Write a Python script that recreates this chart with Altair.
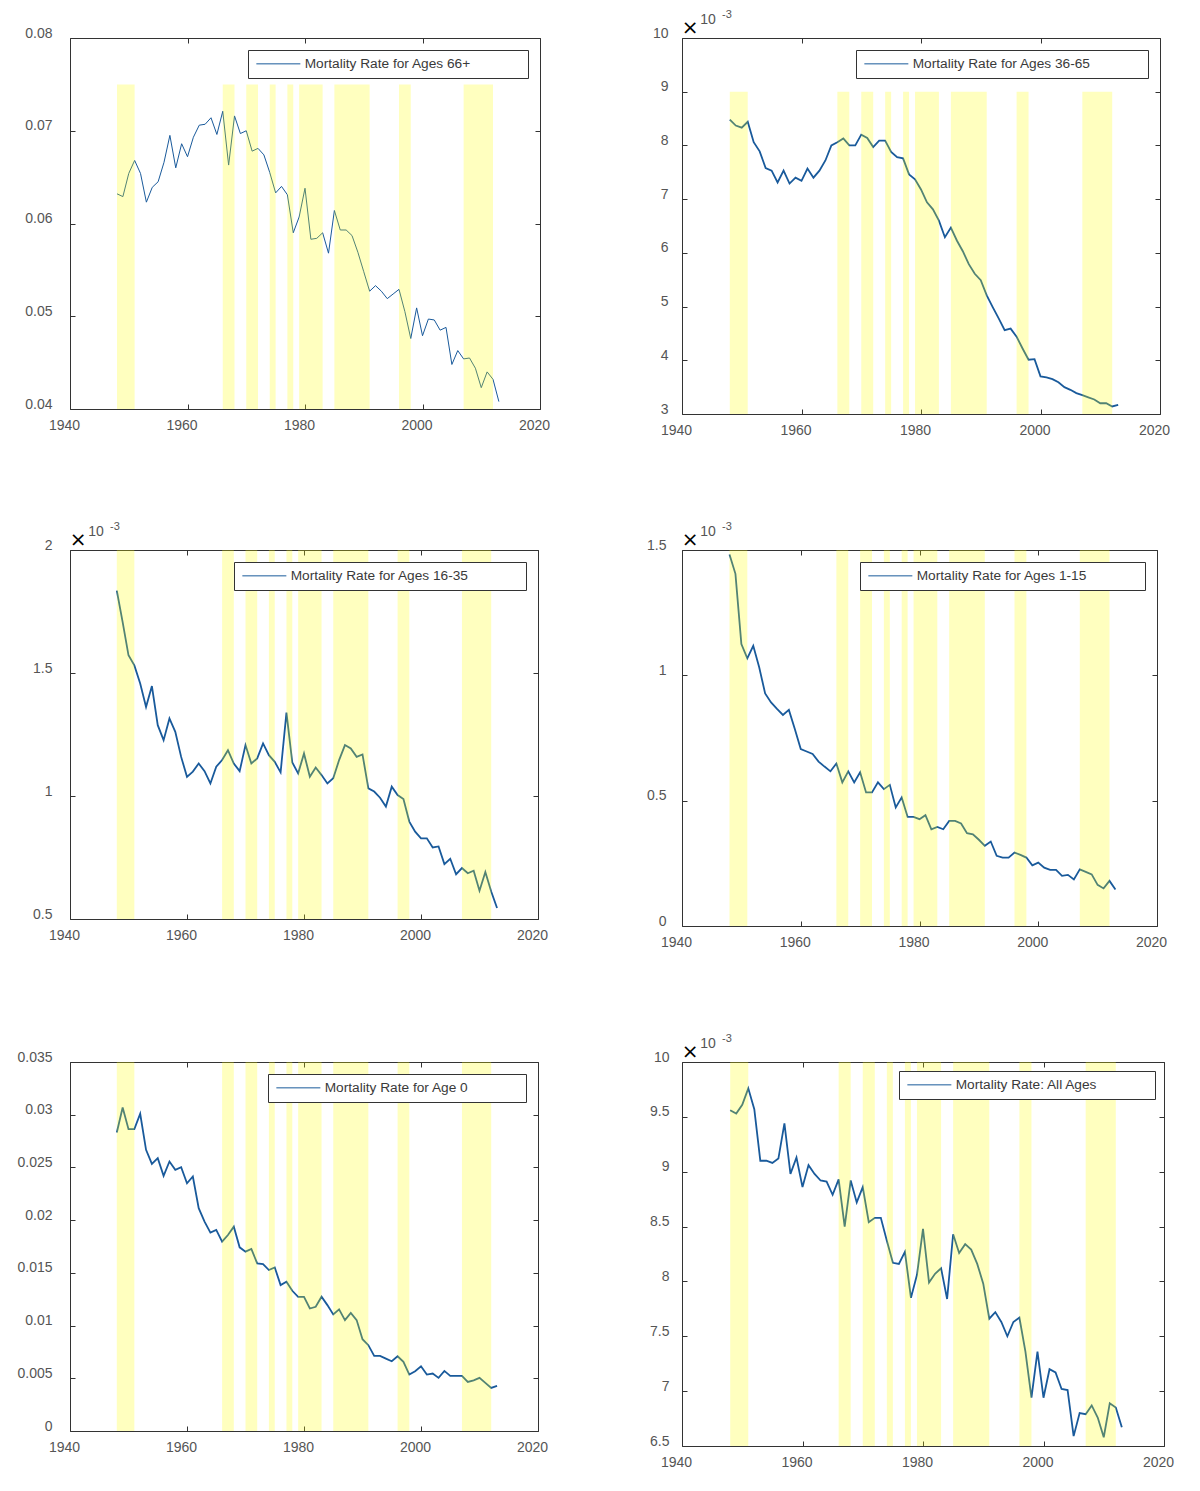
import altair as alt
import pandas as pd

years = list(range(1948, 2014))

rate_66_plus = [
    0.0632, 0.0629, 0.0654, 0.0668, 0.0654, 0.0623, 0.0639, 0.0645, 0.0666, 0.0695,
    0.0660, 0.0686, 0.0672, 0.0693, 0.0706, 0.0707, 0.0714, 0.0696, 0.0721, 0.0663,
    0.0716, 0.0697, 0.0700, 0.0678, 0.0681, 0.0674, 0.0655, 0.0633, 0.0640, 0.0631,
    0.0590, 0.0607, 0.0638, 0.0583, 0.0584, 0.0590, 0.0568, 0.0614, 0.0593, 0.0593,
    0.0587, 0.0569, 0.0548, 0.0527, 0.0533, 0.0527, 0.0519, 0.0524, 0.0529, 0.0505,
    0.0476, 0.0509, 0.0479, 0.0497, 0.0496, 0.0485, 0.0488, 0.0448, 0.0463, 0.0454,
    0.0455, 0.0444, 0.0423, 0.0440, 0.0432, 0.0408,
]

# values in units of 10^-3
rate_36_65 = [
    8.48, 8.37, 8.33, 8.44, 8.06, 7.89, 7.58, 7.53, 7.31, 7.53,
    7.29, 7.40, 7.34, 7.57, 7.40, 7.53, 7.72, 8.00, 8.06, 8.13,
    8.00, 8.00, 8.20, 8.14, 7.97, 8.09, 8.09, 7.88, 7.78, 7.76,
    7.46, 7.37, 7.18, 6.94, 6.81, 6.60, 6.29, 6.47, 6.23, 6.03,
    5.79, 5.61, 5.49, 5.21, 4.99, 4.78, 4.56, 4.59, 4.44, 4.22,
    4.01, 4.02, 3.70, 3.68, 3.65, 3.59, 3.50, 3.45, 3.39, 3.35,
    3.31, 3.27, 3.20, 3.20, 3.14, 3.17,
]

rate_16_35 = [
    1.835, 1.707, 1.572, 1.531, 1.457, 1.362, 1.447, 1.288, 1.227, 1.315,
    1.261, 1.159, 1.078, 1.099, 1.132, 1.101, 1.051, 1.119, 1.146, 1.186,
    1.132, 1.101, 1.207, 1.132, 1.153, 1.214, 1.166, 1.139, 1.096, 1.339,
    1.136, 1.092, 1.173, 1.078, 1.116, 1.085, 1.051, 1.072, 1.146, 1.207,
    1.193, 1.159, 1.169, 1.031, 1.018, 0.993, 0.957, 1.038, 1.004, 0.988,
    0.896, 0.855, 0.828, 0.828, 0.791, 0.795, 0.723, 0.745, 0.682, 0.707,
    0.686, 0.696, 0.615, 0.691, 0.612, 0.545,
]

rate_1_15 = [
    1.482, 1.405, 1.125, 1.068, 1.118, 1.032, 0.928, 0.892, 0.866, 0.842,
    0.862, 0.786, 0.706, 0.696, 0.686, 0.656, 0.636, 0.617, 0.648, 0.573,
    0.617, 0.573, 0.613, 0.533, 0.533, 0.573, 0.546, 0.563, 0.473, 0.513,
    0.435, 0.435, 0.426, 0.442, 0.386, 0.395, 0.386, 0.419, 0.419, 0.409,
    0.370, 0.366, 0.344, 0.320, 0.337, 0.280, 0.273, 0.273, 0.293, 0.284,
    0.273, 0.242, 0.253, 0.233, 0.224, 0.224, 0.200, 0.204, 0.186, 0.226,
    0.216, 0.206, 0.164, 0.150, 0.180, 0.146,
]

rate_age_0 = [
    0.02832, 0.03069, 0.02863, 0.02863, 0.03009, 0.02667, 0.02534, 0.02588, 0.02420, 0.02556,
    0.02477, 0.02502, 0.02350, 0.02414, 0.02113, 0.01986, 0.01881, 0.01907, 0.01796, 0.01859,
    0.01938, 0.01742, 0.01701, 0.01726, 0.01590, 0.01584, 0.01527, 0.01552, 0.01384, 0.01416,
    0.01330, 0.01273, 0.01273, 0.01162, 0.01178, 0.01273, 0.01194, 0.01105, 0.01153, 0.01052,
    0.01121, 0.01052, 0.00871, 0.00814, 0.00713, 0.00713, 0.00687, 0.00662, 0.00709, 0.00656,
    0.00535, 0.00567, 0.00614, 0.00535, 0.00545, 0.00504, 0.00570, 0.00523, 0.00523, 0.00523,
    0.00466, 0.00481, 0.00504, 0.00456, 0.00409, 0.00428,
]

rate_all = [
    9.56, 9.53, 9.61, 9.76, 9.57, 9.10, 9.10, 9.08, 9.12, 9.44,
    8.98, 9.13, 8.86, 9.06, 8.98, 8.92, 8.91, 8.79, 8.93, 8.50,
    8.92, 8.72, 8.86, 8.54, 8.58, 8.58, 8.37, 8.17, 8.16, 8.27,
    7.85, 8.06, 8.48, 7.99, 8.07, 8.12, 7.84, 8.43, 8.26, 8.34,
    8.29, 8.16, 7.98, 7.66, 7.72, 7.63, 7.50, 7.63, 7.67, 7.36,
    6.94, 7.36, 6.94, 7.20, 7.17, 7.02, 7.01, 6.59, 6.80, 6.79,
    6.87, 6.76, 6.58, 6.89, 6.85, 6.67,
]

band_start = [1948, 1966, 1970, 1974, 1977, 1979, 1985, 1996, 2007]
band_end = [1951, 1968, 1972, 1975, 1978, 1983, 1991, 1998, 2012]

x_ticks = [1940, 1960, 1980, 2000, 2020]

exponent_parts = ["×", "10", "-3"]

BLUE = "#195a9b"
PAD = "\u2800" * 5

panels = [
    dict(label="Mortality Rate for Ages 66+", values=rate_66_plus, domain=[0.04, 0.08],
         ticks=[0.04, 0.05, 0.06, 0.07, 0.08], band=[0.04, 0.075], lw=1.0, exp=False,
         lpad=18, w=470, h=371, loff=12),
    dict(label="Mortality Rate for Ages 36-65", values=rate_36_65, domain=[3, 10],
         ticks=[3, 4, 5, 6, 7, 8, 9, 10], band=[3, 9], lw=1.8, exp=True,
         lpad=14, w=478, h=376, loff=12),
    dict(label="Mortality Rate for Ages 16-35", values=rate_16_35, domain=[0.5, 2],
         ticks=[0.5, 1, 1.5, 2], band=[0.5, 2], lw=1.8, exp=True,
         lpad=18, w=468, h=369, loff=12),
    dict(label="Mortality Rate for Ages 1-15", values=rate_1_15, domain=[0, 1.5],
         ticks=[0, 0.5, 1, 1.5], band=[0, 1.5], lw=1.8, exp=True,
         lpad=16, w=475, h=376, loff=12),
    dict(label="Mortality Rate for Age 0", values=rate_age_0, domain=[0, 0.035],
         ticks=[0, 0.005, 0.01, 0.015, 0.02, 0.025, 0.03, 0.035], band=[0, 0.035], lw=1.8,
         exp=False, lpad=18, w=468, h=369, loff=12),
    dict(label="Mortality Rate: All Ages", values=rate_all, domain=[6.5, 10],
         ticks=[6.5, 7, 7.5, 8, 8.5, 9, 9.5, 10], band=[6.5, 10], lw=1.8, exp=True,
         lpad=13, w=482, h=384, loff=9),
]


def make_panel(p):
    df = pd.DataFrame({"year": years, "rate": p["values"], "series": p["label"]})
    bands = pd.DataFrame({"start": band_start, "end": band_end,
                          "lo": p["band"][0], "hi": p["band"][1]})
    xscale = alt.Scale(domain=[1940, 2020], nice=False, zero=False)
    yscale = alt.Scale(domain=p["domain"], nice=False, zero=False)

    x_bottom = alt.Axis(values=x_ticks, format="d", orient="bottom", offset=-5, tickSize=5,
                        domain=False, labelPadding=9, labelOffset=-6, labelFlush=False,
                        labelOverlap=False, title=None)
    x_top = alt.Axis(values=x_ticks, orient="top", offset=-5, tickSize=5, domain=False,
                     labels=False, title=None)
    y_left = alt.Axis(values=p["ticks"], format="~r", orient="left", offset=-5, tickSize=5,
                      domain=False, labelPadding=p["lpad"], labelOffset=-5,
                      labelOverlap=False, labelFlush=False, title=None)
    y_right = alt.Axis(values=p["ticks"], orient="right", offset=-5, tickSize=5,
                       domain=False, labels=False, title=None)

    legend = alt.Legend(
        title=None, orient="top-right", offset=p["loff"], symbolType="M-1,0H7",
        symbolSize=121, symbolStrokeWidth=1, labelFont="Liberation Sans",
        labelFontSize=13.7, labelColor="#3a3a3a", labelOffset=36, padding=7,
        strokeColor="#333333", fillColor="white", cornerRadius=0,
        labelExpr="datum.label + '" + PAD + "'", labelLimit=400,
    )

    line = alt.Chart(df).mark_line(strokeWidth=p["lw"]).encode(
        x=alt.X("year:Q", scale=xscale, axis=x_bottom),
        y=alt.Y("rate:Q", scale=yscale, axis=y_left),
        stroke=alt.Stroke("series:N", scale=alt.Scale(domain=[p["label"]], range=[BLUE]),
                          legend=legend),
    )
    band = alt.Chart(bands).mark_rect(color="#ffff00", opacity=0.25).encode(
        x=alt.X("start:Q", scale=xscale, axis=x_top),
        x2="end:Q",
        y=alt.Y("lo:Q", scale=yscale, axis=y_right),
        y2="hi:Q",
    )
    layers = [line, band]
    if p["exp"]:
        layers.append(
            alt.Chart(pd.DataFrame({"t": [exponent_parts[0]]})).mark_text(
                fontSize=20, color="black", font="DejaVu Sans", align="center",
                baseline="middle").encode(x=alt.value(8), y=alt.value(-10), text="t:N"))
        layers.append(
            alt.Chart(pd.DataFrame({"t": [exponent_parts[1]]})).mark_text(
                fontSize=14, color="#555555", font="Liberation Sans", align="center",
                baseline="middle").encode(x=alt.value(26), y=alt.value(-18), text="t:N"))
        layers.append(
            alt.Chart(pd.DataFrame({"t": [exponent_parts[2]]})).mark_text(
                fontSize=11, color="#555555", font="Liberation Sans", align="center",
                baseline="middle").encode(x=alt.value(45), y=alt.value(-23), text="t:N"))
    return alt.layer(*layers).resolve_axis(x="independent", y="independent").properties(
        width=p["w"], height=p["h"])


charts = [make_panel(p) for p in panels]

chart = alt.concat(
    *charts, columns=2, spacing={"row": 136, "column": 142}, bounds="flush", align="each"
).resolve_scale(
    stroke="independent"
).properties(
    padding={"left": 8, "top": 0, "right": 5, "bottom": 5}
).configure_view(
    stroke="#333333", strokeWidth=1
).configure_axis(
    grid=False, labelFont="Liberation Sans", labelFontSize=14, labelColor="#555555",
    tickColor="#333333", tickWidth=1
)

chart.save("out.html", embed_options={"renderer": "svg", "actions": False})
